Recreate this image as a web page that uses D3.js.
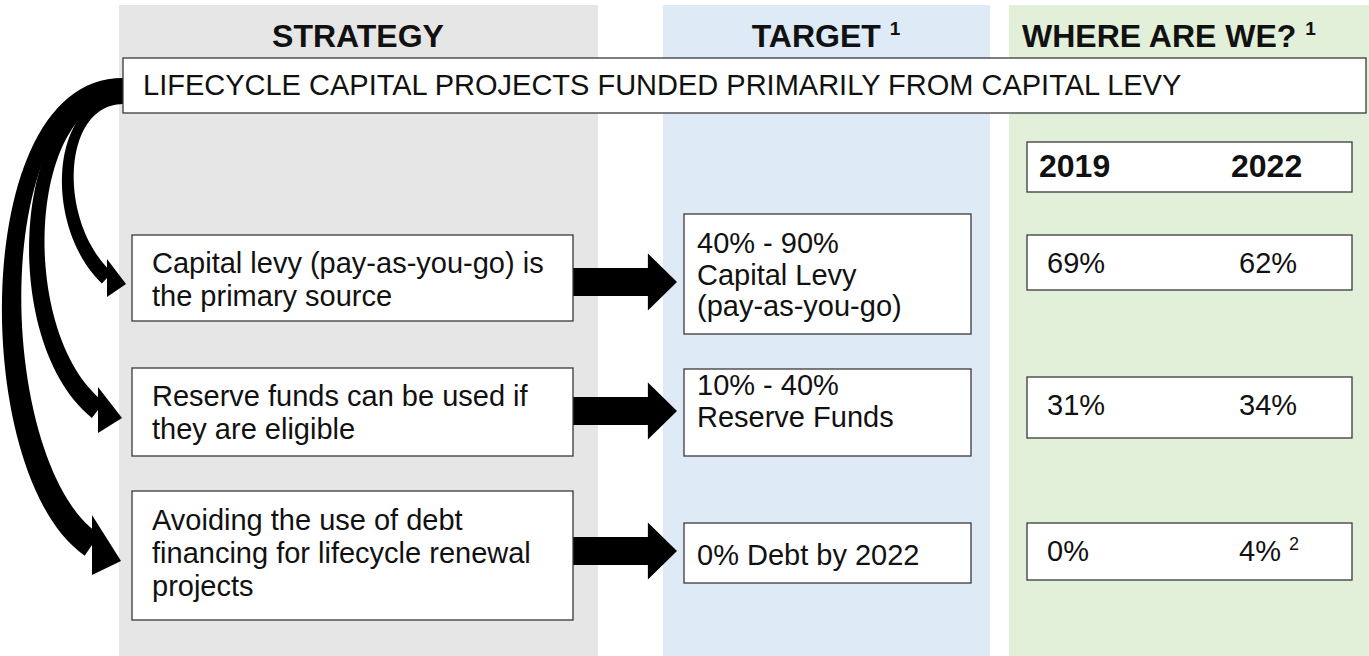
<!DOCTYPE html>
<html lang="en">
<head>
<meta charset="utf-8">
<title>Lifecycle capital funding</title>
<script src="https://cdn.jsdelivr.net/npm/d3@7/dist/d3.min.js"></script>
<style>
  body { margin: 0; background: #fff; }
  svg { display: block; font-family: "Liberation Sans", Arial, sans-serif; }
  .box { fill: #fff; stroke: #3a3a3a; stroke-width: 1.3px; }
  .head { font-weight: bold; font-size: 32px; fill: #111; }
  .txt { font-size: 29px; fill: #111; }
</style>
</head>
<body>
<script>
// ---- data ----
var columns = ["STRATEGY", "TARGET", "WHERE ARE WE?"];
var headerNotes = ["", "1", "1"];
var banner = "LIFECYCLE CAPITAL PROJECTS FUNDED PRIMARILY FROM CAPITAL LEVY";
var strategies = [
  ["Capital levy (pay-as-you-go) is", "the primary source"],
  ["Reserve funds can be used if", "they are eligible"],
  ["Avoiding the use of debt", "financing for lifecycle renewal", "projects"]
];
var targets = [
  ["40% - 90%", "Capital Levy", "(pay-as-you-go)"],
  ["10% - 40%", "Reserve Funds"],
  ["0% Debt by 2022"]
];
var years = ["2019", "2022"];
var actual2019 = ["69%", "31%", "0%"];
var actual2022 = ["62%", "34%", "4%"];
var notes2022 = ["", "", "2"];

// ---- layout ----
var w = 1369, h = 656;
var rows = d3.range(strategies.length);

var colX = d3.scaleOrdinal().domain(columns).range([119, 663, 1009]);
var colW = d3.scaleOrdinal().domain(columns).range([479, 327, 360]);
var colFill = d3.scaleOrdinal().domain(columns).range(["#e7e6e6", "#deeaf6", "#e2efd9"]);

// box tops / bottoms / first baselines per row for each column
var stratTop = d3.scaleOrdinal().domain(rows).range([235, 368, 491]);
var stratBot = d3.scaleOrdinal().domain(rows).range([321, 456, 620]);
var stratBase = d3.scaleOrdinal().domain(rows).range([273, 406, 530]);
var targTop = d3.scaleOrdinal().domain(rows).range([214, 369, 523]);
var targBot = d3.scaleOrdinal().domain(rows).range([334, 456, 583]);
var targBase = d3.scaleOrdinal().domain(rows).range([253, 395, 565]);
var whereTop = d3.scaleOrdinal().domain(rows).range([235, 377, 523]);
var whereBot = d3.scaleOrdinal().domain(rows).range([290, 438, 580]);
var whereBase = d3.scaleOrdinal().domain(rows).range([273, 415, 561]);
var arrowY = d3.scaleOrdinal().domain(rows).range([282, 411, 551]);
var yearX = d3.scaleOrdinal().domain(years).range([1047, 1239]);
var lineH = 33;

var svg = d3.select("body").append("svg").attr("width", w).attr("height", h);

// column backgrounds
svg.selectAll("rect.col").data(columns).enter().append("rect")
  .attr("class", "col")
  .attr("x", function(d) { return colX(d); })
  .attr("y", 5)
  .attr("width", function(d) { return colW(d); })
  .attr("height", h - 5)
  .attr("fill", function(d) { return colFill(d); });

// headers
var hx = [358, 826, 1022];
var heads = svg.selectAll("text.head").data(columns).enter().append("text")
  .attr("class", "head")
  .attr("x", function(d, i) { return hx[i]; })
  .attr("y", 47)
  .attr("text-anchor", function(d, i) { return i == 2 ? "start" : "middle"; })
  .text(function(d) { return d; });
heads.filter(function(d, i) { return headerNotes[i]; })
  .append("tspan").attr("font-size", "19px").attr("dx", 9).attr("dy", -12)
  .text(function(d) { return headerNotes[columns.indexOf(d)]; });

// curved arrows from the banner to the strategy boxes
var curves = [
  { p: [[123, 100], [55, 100], [50, 225], [107, 278]], w0: 8, w1: 15, head: [107, 278, 19, 126, 284] },
  { p: [[123, 92], [18, 95], [8, 340], [98, 410]], w0: 10, w1: 20, head: [98, 410, 23, 122, 418] },
  { p: [[123, 84], [-22, 84], [-18, 470], [92, 545]], w0: 12, w1: 26, head: [92, 545, 30, 121, 561] }
];

function bez(p, t) {
  var u = 1 - t;
  return [
    u*u*u*p[0][0] + 3*u*u*t*p[1][0] + 3*u*t*t*p[2][0] + t*t*t*p[3][0],
    u*u*u*p[0][1] + 3*u*u*t*p[1][1] + 3*u*t*t*p[2][1] + t*t*t*p[3][1]
  ];
}
function bezD(p, t) {
  var u = 1 - t;
  return [
    3*u*u*(p[1][0]-p[0][0]) + 6*u*t*(p[2][0]-p[1][0]) + 3*t*t*(p[3][0]-p[2][0]),
    3*u*u*(p[1][1]-p[0][1]) + 6*u*t*(p[2][1]-p[1][1]) + 3*t*t*(p[3][1]-p[2][1])
  ];
}
function band(c) {
  var left = [], right = [];
  d3.range(0, 1.0001, 1 / 60).forEach(function(t) {
    var pt = bez(c.p, t), dv = bezD(c.p, t);
    var len = Math.sqrt(dv[0]*dv[0] + dv[1]*dv[1]) || 1;
    var nx = -dv[1] / len, ny = dv[0] / len;
    var hw = (c.w0 + (c.w1 - c.w0) * t) / 2;
    left.push([pt[0] + nx*hw, pt[1] + ny*hw]);
    right.push([pt[0] - nx*hw, pt[1] - ny*hw]);
  });
  return left.concat(right.reverse());
}
var poly = d3.line().curve(d3.curveLinearClosed);

svg.selectAll("path.curve").data(curves).enter().append("path")
  .attr("class", "curve")
  .attr("d", function(d) { return poly(band(d)); })
  .attr("fill", "#000");
svg.selectAll("path.chead").data(curves).enter().append("path")
  .attr("class", "chead")
  .attr("d", function(d) {
    var k = d.head;
    return poly([[k[0], k[1] - k[2]], [k[3], k[4]], [k[0], k[1] + k[2]]]);
  })
  .attr("fill", "#000");

// banner
svg.append("rect").attr("class", "box")
  .attr("x", 123).attr("y", 58).attr("width", 1243).attr("height", 55);
svg.append("text").attr("class", "txt")
  .attr("x", 143).attr("y", 95)
  .text(banner);

// straight block arrows between strategy and target boxes
var ax = d3.scaleLinear().domain([0, 1]).range([573, 677]);
svg.selectAll("path.block").data(rows).enter().append("path")
  .attr("class", "block")
  .attr("d", function(r) {
    var y = arrowY(r), xb = ax(0.72);
    return poly([[ax(0), y - 14], [xb, y - 14], [xb, y - 28.5], [ax(1), y],
                 [xb, y + 28.5], [xb, y + 14], [ax(0), y + 14]]);
  })
  .attr("fill", "#000");

// strategy boxes
var sg = svg.selectAll("g.strat").data(strategies).enter().append("g").attr("class", "strat");
sg.append("rect").attr("class", "box")
  .attr("x", 132).attr("width", 441)
  .attr("y", function(d, i) { return stratTop(i); })
  .attr("height", function(d, i) { return stratBot(i) - stratTop(i); });
sg.each(function(lines, i) {
  d3.select(this).selectAll("text").data(lines).enter().append("text")
    .attr("class", "txt").attr("x", 152)
    .attr("y", function(d, j) { return stratBase(i) + j * lineH; })
    .text(function(d) { return d; });
});

// target boxes
var tg = svg.selectAll("g.targ").data(targets).enter().append("g").attr("class", "targ");
tg.append("rect").attr("class", "box")
  .attr("x", 684).attr("width", 287)
  .attr("y", function(d, i) { return targTop(i); })
  .attr("height", function(d, i) { return targBot(i) - targTop(i); });
tg.each(function(lines, i) {
  d3.select(this).selectAll("text").data(lines).enter().append("text")
    .attr("class", "txt").attr("x", 697)
    .attr("y", function(d, j) { return targBase(i) + j * 31.5; })
    .text(function(d) { return d; });
});

// where are we: year header box
svg.append("rect").attr("class", "box")
  .attr("x", 1027).attr("y", 142).attr("width", 325).attr("height", 50);
svg.selectAll("text.year").data(years).enter().append("text")
  .attr("class", "head year")
  .attr("x", function(d) { return yearX(d) - 8; })
  .attr("y", 177)
  .text(function(d) { return d; });

var wg = svg.selectAll("g.where").data(rows).enter().append("g").attr("class", "where");
wg.append("rect").attr("class", "box")
  .attr("x", 1027).attr("width", 325)
  .attr("y", function(r) { return whereTop(r); })
  .attr("height", function(r) { return whereBot(r) - whereTop(r); });
wg.append("text").attr("class", "txt")
  .attr("x", yearX(years[0]))
  .attr("y", function(r) { return whereBase(r); })
  .text(function(r) { return actual2019[r]; });
var t22 = wg.append("text").attr("class", "txt")
  .attr("x", yearX(years[1]))
  .attr("y", function(r) { return whereBase(r); })
  .text(function(r) { return actual2022[r]; });
t22.filter(function(r) { return notes2022[r]; })
  .append("tspan").attr("font-size", "18px").attr("dx", 8).attr("dy", -11)
  .text(function(r) { return notes2022[r]; });
</script>
</body>
</html>
